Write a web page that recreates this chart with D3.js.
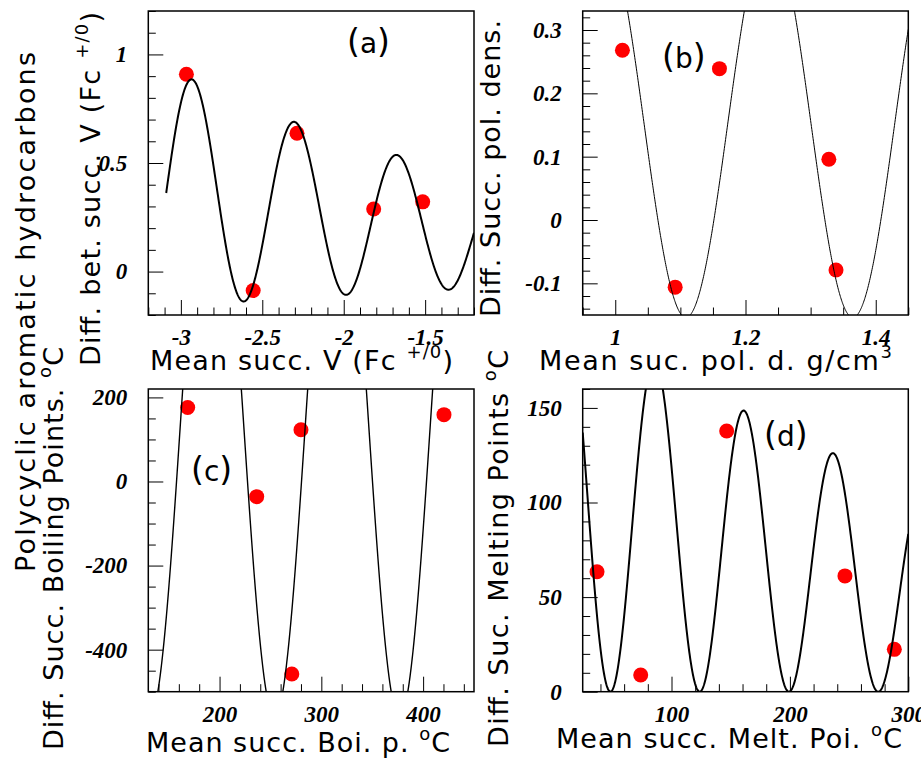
<!DOCTYPE html>
<html><head><meta charset="utf-8">
<script src="https://cdn.jsdelivr.net/npm/d3@7"></script>
<style>html,body{margin:0;padding:0;background:#fff} svg{display:block}</style>
</head><body>
<script>
// ---------------- data ----------------
// (a) mean successive V (Fc+/0) vs difference
const aX = [-2.966, -2.556, -2.287, -1.816, -1.515];
const aY = [0.909, -0.087, 0.637, 0.288, 0.321];
// (b) polarizability density
const bX = [1.011, 1.092, 1.160, 1.328, 1.339];
const bY = [0.268, -0.106, 0.239, 0.096, -0.079];
// (c) boiling points
const cX = [168.7, 236.5, 271.0, 280.0, 420.5];
const cY = [176, -36, -458, 123, 159];
// (d) melting points
const dX = [37.1, 74.0, 146.6, 246.5, 288.2];
const dY = [63.4, 8.8, 137.8, 61.2, 22.4];

// fitted curve parameters
// a: amp*exp(-decay*(x-x0))*(offset+cos(2pi(x-x0)/period)), drawn from..to
const aFit = [0.52, 0.397, 0.70, -2.928, 0.629, -3.09, -1.2];
// b: centre - amp*cos(2pi(x-xmin)/period)
const bFit = [0.151, 0.305, 1.1085, 0.2564];
// c: centre + amp*cos(2pi(x-xpeak)/period)
const cFit = [150.6, 711.8, 192.6, 122.8];
// d: amp*exp(-decay*(x-xref))*(1+cos(2pi(x-xpeak)/period))
const dFit = [74.25, 0.002179, 161.5, 86.1, 75.4];

// axis tick values and labels
const aXTicks = [-3, -2.5, -2, -1.5], aXLabels = ["-3", "-2.5", "-2", "-1.5"];
const aYTicks = [0, 0.5, 1], aYLabels = ["0", "0.5", "1"];
const bXTicks = [1, 1.2, 1.4], bXLabels = ["1", "1.2", "1.4"];
const bYTicks = [-0.1, 0, 0.1, 0.2, 0.3], bYLabels = ["-0.1", "0", "0.1", "0.2", "0.3"];
const cXTicks = [200, 300, 400], cXLabels = ["200", "300", "400"];
const cYTicks = [-400, -200, 0, 200], cYLabels = ["-400", "-200", "0", "200"];
const dXTicks = [100, 200, 300], dXLabels = ["100", "200", "300"];
const dYTicks = [0, 50, 100, 150], dYLabels = ["0", "50", "100", "150"];

// ---------------- drawing ----------------
const W = 921, H = 761;
const svg = d3.select("body").append("svg").attr("width", W).attr("height", H)
  .style("background", "#fff");
const TICK_FONT = "'Liberation Serif','Times New Roman',serif";
const TITLE_FONT = "'DejaVu Sans','Noto Sans',sans-serif";
const TAU = 2 * Math.PI;

function stepTicks(dom, step, majors) {
  const lo = Math.min(dom[0], dom[1]), hi = Math.max(dom[0], dom[1]);
  const n0 = Math.ceil(lo / step - 1e-9), n1 = Math.floor(hi / step + 1e-9);
  return d3.range(n0, n1 + 1).map(k => +(k * step).toFixed(6))
    .filter(v => !majors.some(m => Math.abs(m - v) < step * 1e-3));
}

function panel(p) {
  const [x0, x1, y0, y1] = p.box;
  const x = d3.scaleLinear().domain(p.xDom).range([x0, x1]);
  const y = d3.scaleLinear().domain(p.yDom).range([y1, y0]);
  const g = svg.append("g");
  const clipId = "clip-" + p.id;
  svg.append("clipPath").attr("id", clipId).append("rect")
    .attr("x", x0).attr("y", y0).attr("width", x1 - x0).attr("height", y1 - y0);

  const styleAxis = s => {
    s.select(".domain").remove();
    s.attr("font-family", TICK_FONT).attr("font-size", 23)
      .attr("font-weight", "bold").attr("font-style", "italic").attr("color", "#000");
    s.selectAll(".tick line").attr("stroke-width", 1);
  };
  // x axis
  g.append("g").attr("transform", `translate(0,${y1})`)
    .call(d3.axisBottom(x).tickValues(stepTicks(p.xDom, p.xMinor, p.xTicks))
      .tickFormat("").tickSize(-7.5).tickSizeOuter(0)).call(styleAxis);
  g.append("g").attr("transform", `translate(0,${y1})`)
    .call(d3.axisBottom(x).tickValues(p.xTicks).tickFormat((d, i) => p.xLabels[i])
      .tickSize(-15).tickPadding(14).tickSizeOuter(0)).call(styleAxis);
  // y axis
  g.append("g").attr("transform", `translate(${x0},0)`)
    .call(d3.axisLeft(y).tickValues(stepTicks(p.yDom, p.yMinor, p.yTicks))
      .tickFormat("").tickSize(-7.5).tickSizeOuter(0)).call(styleAxis);
  g.append("g").attr("transform", `translate(${x0},0)`)
    .call(d3.axisLeft(y).tickValues(p.yTicks).tickFormat((d, i) => p.yLabels[i])
      .tickSize(-15).tickPadding(21).tickSizeOuter(0)).call(styleAxis);

  const inner = g.append("g").attr("clip-path", `url(#${clipId})`);
  // points
  inner.selectAll("circle").data(p.xs.map((v, i) => [v, p.ys[i]])).join("circle")
    .attr("cx", d => x(d[0])).attr("cy", d => y(d[1])).attr("r", 7.5).attr("fill", "#ff0000");
  // fitted curve
  const from = p.from ?? p.xDom[0], to = p.to ?? p.xDom[1];
  const n = 800;
  const pts = d3.range(n + 1).map(i => { const xv = from + (to - from) * i / n; return [xv, p.f(xv)]; });
  inner.append("path").datum(pts)
    .attr("d", d3.line().x(d => x(d[0])).y(d => y(Math.max(Math.min(d[1], 1e4), -1e4))))
    .attr("fill", "none").attr("stroke", "#000").attr("stroke-width", p.lw);
  // frame
  g.append("rect").attr("x", x0).attr("y", y0).attr("width", x1 - x0).attr("height", y1 - y0)
    .attr("fill", "none").attr("stroke", "#000").attr("stroke-width", 1.5);
  // panel letter, with tall parentheses
  const lt = g.append("text").attr("x", p.letterPos[0]).attr("y", p.letterPos[1])
    .attr("font-family", TITLE_FONT).attr("font-size", 28);
  lt.append("tspan").attr("font-size", 33).text("(");
  lt.append("tspan").text(p.letter);
  lt.append("tspan").attr("font-size", 33).text(")");
}

// title helper: parts = [[text, isSup], ...]
function title(parts, bx, by, len, rotated) {
  const t = svg.append("text")
    .attr("transform", rotated ? `translate(${bx},${by}) rotate(-90)` : `translate(${bx},${by})`)
    .attr("font-family", TITLE_FONT).attr("font-size", 27)
    .attr("textLength", len).attr("lengthAdjust", "spacing");
  let raised = false;
  parts.forEach(([s, sup]) => {
    const ts = t.append("tspan").text(s);
    if (sup && !raised) { ts.attr("dy", -12).attr("font-size", 18); raised = true; }
    else if (sup) { ts.attr("font-size", 18); }
    else if (raised) { ts.attr("dy", 12); raised = false; }
  });
}

panel({ id: "a", box: [148.3, 474, 11, 315], xDom: [-3.2, -1.2], yDom: [-0.2, 1.2],
  xTicks: aXTicks, xLabels: aXLabels, yTicks: aYTicks, yLabels: aYLabels, xMinor: 0.1, yMinor: 0.1,
  xs: aX, ys: aY, lw: 2, from: aFit[5], to: aFit[6],
  f: v => aFit[0] * Math.exp(-aFit[1] * (v - aFit[3])) * (aFit[2] + Math.cos(TAU * (v - aFit[3]) / aFit[4])),
  letter: "a", letterPos: [347, 53] });
panel({ id: "b", box: [582.7, 908.3, 11, 315], xDom: [0.95, 1.45], yDom: [-0.15, 0.33],
  xTicks: bXTicks, xLabels: bXLabels, yTicks: bYTicks, yLabels: bYLabels, xMinor: 0.05, yMinor: 0.02,
  xs: bX, ys: bY, lw: 1,
  f: v => bFit[0] - bFit[1] * Math.cos(TAU * (v - bFit[2]) / bFit[3]),
  letter: "b", letterPos: [662, 68] });
panel({ id: "c", box: [148.3, 474, 389, 691.7], xDom: [130, 450], yDom: [-500, 220],
  xTicks: cXTicks, xLabels: cXLabels, yTicks: cYTicks, yLabels: cYLabels, xMinor: 20, yMinor: 50,
  xs: cX, ys: cY, lw: 1.4,
  f: v => cFit[0] + cFit[1] * Math.cos(TAU * (v - cFit[2]) / cFit[3]),
  letter: "c", letterPos: [191, 481] });
panel({ id: "d", box: [582.7, 908.3, 389, 691.7], xDom: [25, 300], yDom: [0, 160],
  xTicks: dXTicks, xLabels: dXLabels, yTicks: dYTicks, yLabels: dYLabels, xMinor: 20, yMinor: 10,
  xs: dX, ys: dY, lw: 2,
  f: v => dFit[0] * Math.exp(-dFit[1] * (v - dFit[2])) * (1 + Math.cos(TAU * (v - dFit[3]) / dFit[4])),
  letter: "d", letterPos: [764, 446] });

// axis titles
title([["Polycyclic aromatic hydrocarbons", false]], 35, 572, 520, true);
title([["Diff. bet. succ. V (Fc ", false], ["+/0", true], [")", false]], 100, 366, 354, true);
title([["Mean succ. V (Fc ", false], ["+/0", true], [")", false]], 150, 370, 303, false);
title([["Diff. Succ. pol. dens.", false]], 500, 317, 297, true);
title([["Mean suc. pol. d. g/cm", false], ["3", true]], 539, 370, 353, false);
title([["Diff. Succ. Boiling Points. ", false], ["o", true], ["C", false]], 63, 750, 403, true);
title([["Mean succ. Boi. p. ", false], ["o", true], ["C", false]], 146, 752, 304, false);
title([["Diff. Suc. Melting Points ", false], ["o", true], ["C", false]], 508, 747, 397, true);
title([["Mean succ. Melt. Poi. ", false], ["o", true], ["C", false]], 556, 748, 346, false);
</script>
</body></html>
